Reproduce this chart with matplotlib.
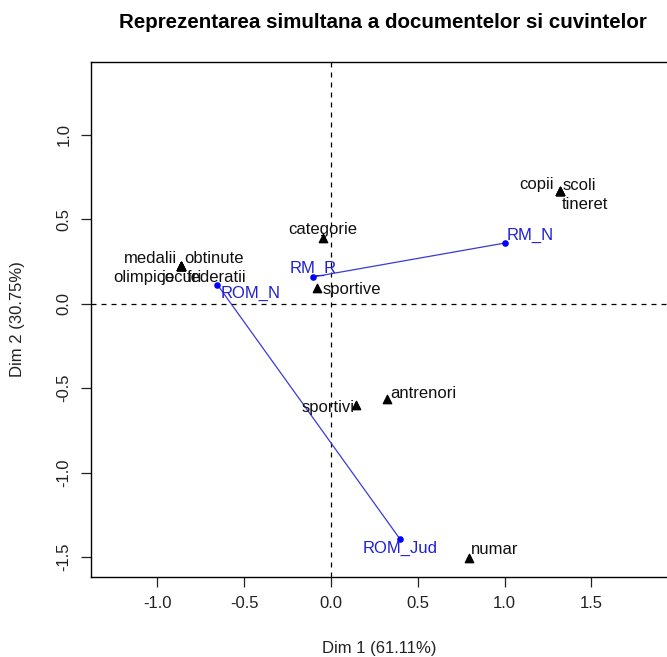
import matplotlib
matplotlib.use('Agg')
import matplotlib.pyplot as plt

plt.rcParams['font.family'] = ['Liberation Sans', 'DejaVu Sans']

# Coordonate documente (coloane) - Dim 1, Dim 2
doc_names = ['RM_N', 'RM_R', 'ROM_N', 'ROM_Jud']
doc_x = [1.002, -0.104, -0.655, 0.397]
doc_y = [0.360, 0.159, 0.114, -1.393]

# Coordonate cuvinte (randuri); unele cuvinte au acelasi profil
word_names = ['categorie', 'medalii', 'obtinute', 'olimpice', 'jocuri', 'federatii',
              'copii', 'scoli', 'tineret', 'sportive', 'sportivi', 'antrenori', 'numar']
word_x = [-0.049, -0.864, -0.864, -0.864, -0.864, -0.864,
          1.319, 1.319, 1.319, -0.079, 0.144, 0.324, 0.793]
word_y = [0.387, 0.221, 0.221, 0.221, 0.221, 0.221,
          0.668, 0.668, 0.668, 0.095, -0.602, -0.566, -1.504]

# Segmente trasate intre documente
segments = [('RM_R', 'RM_N'), ('ROM_N', 'ROM_Jud')]

# pozitia etichetelor (offset in pixeli, aliniere)
word_lab = {
    'categorie': (0, 9, 'center'),
    'medalii': (-4, 8, 'right'),
    'obtinute': (3, 8, 'left'),
    'olimpice': (-6, -11, 'right'),
    'jocuri': (0, -11, 'center'),
    'federatii': (6, -11, 'left'),
    'copii': (-6, 7, 'right'),
    'scoli': (3, 6, 'left'),
    'tineret': (2, -13, 'left'),
    'sportive': (5, -2, 'left'),
    'sportivi': (-1, -2, 'right'),
    'antrenori': (3, 6, 'left'),
    'numar': (2, 8, 'left'),
}
doc_lab = {
    'RM_N': (2, 8, 'left'),
    'RM_R': (0, 9, 'center'),
    'ROM_N': (3, -9, 'left'),
    'ROM_Jud': (0, -9, 'center'),
}

W, H = 667, 657
fig = plt.figure(figsize=(W / 100, H / 100), dpi=100)
ax = fig.add_axes([91 / W, 1 - 577 / H, (668 - 91) / W, (577 - 62) / H])

ax.axhline(0, color='black', linestyle=(0, (4, 4)), linewidth=0.9, zorder=1)
ax.axvline(0, color='black', linestyle=(0, (4, 4)), linewidth=0.9, zorder=1)

for a, b in segments:
    i, j = doc_names.index(a), doc_names.index(b)
    ax.plot([doc_x[i], doc_x[j]], [doc_y[i], doc_y[j]], color='#3a3ad8',
            linewidth=0.9, zorder=2)

ax.scatter(doc_x, doc_y, color='blue', s=14, zorder=3)

for n, x, y in zip(word_names, word_x, word_y):
    dx, dy, ha = word_lab[n]
    ax.annotate(n, (x, y), xytext=(dx, dy), textcoords='offset pixels',
                ha=ha, va='center', fontsize=12, color='#111111', zorder=4)

for n, x, y in zip(doc_names, doc_x, doc_y):
    dx, dy, ha = doc_lab[n]
    ax.annotate(n, (x, y), xytext=(dx, dy), textcoords='offset pixels',
                ha=ha, va='center', fontsize=12, color='#1f1fd6', zorder=4)

ax.scatter(word_x, word_y, marker='^', color='black', s=36, zorder=5)

ax.set_xlim(-1.3825, 1.941)
ax.set_ylim(-1.618, 1.432)
ax.set_xticks([-1.0, -0.5, 0.0, 0.5, 1.0, 1.5])
ax.set_yticks([-1.5, -1.0, -0.5, 0.0, 0.5, 1.0])
ax.set_xticklabels(['-1.0', '-0.5', '0.0', '0.5', '1.0', '1.5'])
ax.set_yticklabels(['-1.5', '-1.0', '-0.5', '0.0', '0.5', '1.0'],
                   rotation=90, va='center')
ax.tick_params(direction='out', length=7, width=0.9, labelsize=12,
               colors='#222222', pad=7)
for s in ax.spines.values():
    s.set_linewidth(1.0)

ax.set_xlabel('Dim 1 (61.11%)', fontsize=12, labelpad=21, color='#222222')
ax.set_ylabel('Dim 2 (30.75%)', fontsize=12, labelpad=23, color='#222222')
fig.text(383 / W, 1 - 22 / H, 'Reprezentarea simultana a documentelor si cuvintelor',
         ha='center', va='center', fontsize=14.8, fontweight='bold')

fig.savefig('out.png', dpi=100)
